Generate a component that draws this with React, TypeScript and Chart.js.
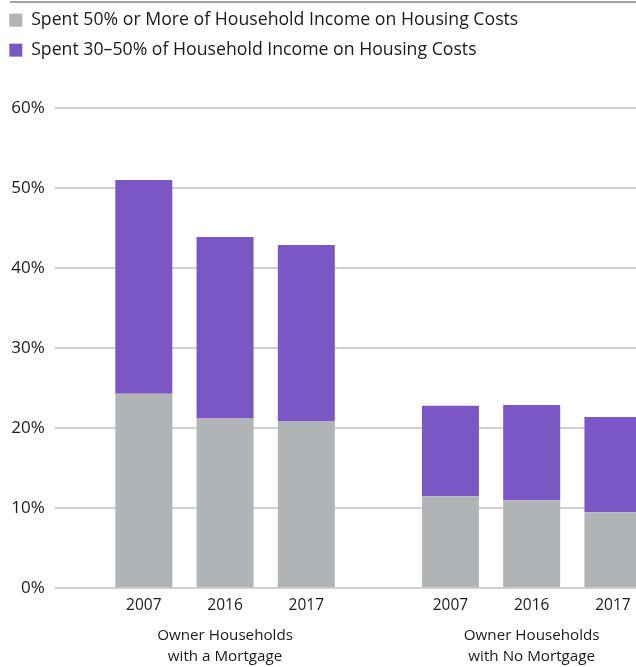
import React, { useEffect, useRef } from "react";
import { Chart, registerables } from "chart.js";

Chart.register(...registerables);

// ---- data ----
const groupLabels = [
  ["Owner Households", "with a Mortgage"],
  ["Owner Households", "with No Mortgage"],
];
const years = ["2007", "2016", "2017"];
const seriesLabels = [
  "Spent 50% or More of Household Income on Housing Costs",
  "Spent 30–50% of Household Income on Housing Costs",
];
// share of households spending 50%+ (bottom segment), per year
const severeMortgage = [24.3, 21.2, 20.9];
const severeNoMortgage = [11.5, 11.0, 9.5];
// share spending 30–50% (top segment), per year
const moderateMortgage = [26.7, 22.7, 22.0];
const moderateNoMortgage = [11.3, 11.9, 11.9];
const yMin = 0;
const yMax = 60;
const yStep = 10;

// ---- styles ----
const GRAY = "#b1b4b6";
const PURPLE = "#7b57c5";
const TEXT = "#1a1a1a";
const GRID = "#d0d0d0";
const FONT = "'Open Sans', Roboto, sans-serif";

export default function App() {
  const ref = useRef<HTMLCanvasElement | null>(null);

  useEffect(() => {
    if (!ref.current) return;
    const datasets: any[] = [];
    years.forEach((yr, i) => {
      datasets.push({
        label: seriesLabels[0],
        data: [severeMortgage[i], severeNoMortgage[i]],
        backgroundColor: GRAY,
        stack: yr,
        borderWidth: 0,
      });
      datasets.push({
        label: seriesLabels[1],
        data: [moderateMortgage[i], moderateNoMortgage[i]],
        backgroundColor: PURPLE,
        stack: yr,
        borderWidth: 0,
      });
    });

    const decor = {
      id: "decor",
      beforeLayout(chart: any) {
        const leg = chart.legend;
        if (leg && !leg.__patched) {
          const orig = leg.fit;
          leg.fit = function () {
            orig.call(this);
            this.height = 109;
          };
          leg.__patched = true;
        }
      },
      beforeDraw(chart: any) {
        const ctx = chart.ctx;
        ctx.save();
        ctx.strokeStyle = "#a3a3a3";
        ctx.lineWidth = 2;
        ctx.beginPath();
        ctx.moveTo(13, 3);
        ctx.lineTo(chart.width, 3);
        ctx.stroke();
        ctx.restore();
      },
      afterDraw(chart: any) {
        const ctx = chart.ctx;
        const area = chart.chartArea;
        ctx.save();
        ctx.fillStyle = TEXT;
        ctx.font = `15.5px ${FONT}`;
        ctx.textAlign = "center";
        ctx.textBaseline = "middle";
        years.forEach((yr, i) => {
          const meta = chart.getDatasetMeta(i * 2);
          meta.data.forEach((bar: any) => {
            ctx.fillText(yr, bar.x, area.bottom + 17.7);
          });
        });
        ctx.restore();
      },
    };

    const chart = new Chart(ref.current, {
      type: "bar",
      data: { labels: groupLabels as any, datasets },
      options: {
        responsive: false,
        animation: false,
        layout: { padding: { left: 0, right: 3, top: 0, bottom: 0 } },
        datasets: {
          bar: { categoryPercentage: 0.795, barPercentage: 0.7015 },
        } as any,
        plugins: {
          tooltip: { enabled: false },
          legend: {
            position: "top",
            align: "start",
            labels: {
              boxWidth: 13,
              boxHeight: 13,
              padding: 12.3,
              color: TEXT,
              font: { family: FONT, size: 17.7 },
              filter: (item: any) => item.datasetIndex < 2,
            },
          },
        },
        scales: {
          x: {
            stacked: true,
            grid: { display: false, drawTicks: false },
            border: { display: false },
            ticks: {
              color: TEXT,
              font: { family: FONT, size: 15.2, lineHeight: 1.38 },
              padding: 37,
              maxRotation: 0,
              autoSkip: false,
            },
            afterFit: (scale: any) => {
              scale.height = 78.7;
            },
          },
          y: {
            stacked: true,
            min: yMin,
            max: yMax,
            grid: {
              color: GRID,
              lineWidth: 2,
              drawTicks: true,
              tickLength: 17,
              tickColor: GRID,
            },
            border: { display: false },
            ticks: {
              stepSize: yStep,
              color: TEXT,
              padding: 10,
              font: { family: FONT, size: 17 },
              callback: (v: any) => `${v}%`,
            },
            afterFit: (scale: any) => {
              scale.width = 74.75;
            },
          },
        },
      },
      plugins: [decor],
    });
    return () => chart.destroy();
  }, []);

  return (
    <div
      style={{
        position: "absolute",
        left: 0,
        top: 0,
        width: 636,
        height: 667,
        overflow: "hidden",
        background: "#fff",
      }}
    >
      <canvas
        ref={ref}
        width={691}
        height={668}
        style={{ position: "absolute", left: -3, top: -1, width: 691, height: 668 }}
      />
    </div>
  );
}
